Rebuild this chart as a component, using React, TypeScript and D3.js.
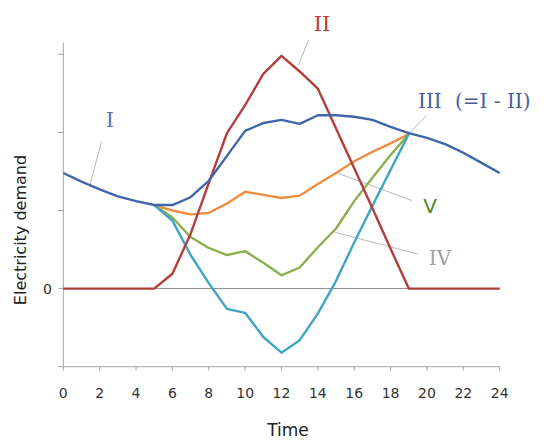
import * as d3 from 'd3';

// ── Data ──────────────────────────────────────────────────────────────────────
const HOURS = d3.range(0, 25);
const SERIES_I = [
  1.48, 1.37, 1.27, 1.18, 1.12, 1.07, 1.07, 1.17, 1.38, 1.70, 2.02, 2.12, 2.16,
  2.11, 2.22, 2.22, 2.20, 2.16, 2.07, 1.99, 1.93, 1.85, 1.74, 1.61, 1.48,
];
const SERIES_II = [
  0, 0, 0, 0, 0, 0, 0.19, 0.70, 1.35, 1.99, 2.35, 2.75, 2.98,
  2.78, 2.56, 2.05, 1.54, 1.03, 0.51, 0, 0, 0, 0, 0, 0,
];
// III, IV and V only exist from hour 5 to hour 19
const SUB_HOURS = d3.range(5, 20);
const SERIES_III = [1.07, 0.87, 0.43, 0.07, -0.26, -0.31, -0.62, -0.82, -0.66, -0.32, 0.10, 0.59, 1.06, 1.52, 1.98];
const SERIES_IV = [1.07, 0.91, 0.66, 0.52, 0.43, 0.48, 0.33, 0.17, 0.27, 0.53, 0.77, 1.12, 1.42, 1.71, 1.98];
const SERIES_V = [1.07, 1.00, 0.95, 0.97, 1.09, 1.24, 1.20, 1.16, 1.19, 1.34, 1.48, 1.63, 1.75, 1.86, 1.98];

const X_TICKS = d3.range(0, 25, 2);
const Y_TICKS = [-1, 0, 1, 2, 3];

// ── Layout ────────────────────────────────────────────────────────────────────
const W = 544;
const H = 441;
const X0 = 63.3;
const X1 = 499.7;
const Y_BOTTOM = 366.7;
const Y_TOP = 42.6;

// ── Colors ────────────────────────────────────────────────────────────────────
const BLUE = '#4066aa';
const RED = '#b33f3d';
const TEAL = '#3ea6c2';
const OLIVE = '#8daf4e';
const ORANGE = '#ee8f40';
const AXIS = '#a6a6a6';
const LEADER = '#b8b8b8';

const SANS = '"DejaVu Sans", Verdana, sans-serif';
const SERIF = '"DejaVu Serif", serif';

export default function App() {
  const x = d3.scaleLinear().domain([0, 24]).range([X0, X1]);
  const y = d3.scaleLinear().domain([-1, 3.15]).range([Y_BOTTOM, Y_TOP]);

  const line = d3
    .line<[number, number]>()
    .x(d => x(d[0]))
    .y(d => y(d[1]));

  const full = (vals: number[]) => line(HOURS.map((h, i) => [h, vals[i]]))!;
  const sub = (vals: number[]) => line(SUB_HOURS.map((h, i) => [h, vals[i]]))!;

  // leader lines: [fromHour, fromValue, toHour, toValue]
  const leaders: [number, number, number, number][] = [
    [2.1, 1.88, 1.47, 1.33],
    [13.48, 3.18, 12.93, 2.86],
    [19.98, 2.22, 19.0, 1.98],
    [19.16, 1.13, 14.95, 1.49],
    [19.53, 0.44, 14.95, 0.72],
  ];

  return (
    <svg
      width={W}
      height={H}
      viewBox={`0 0 ${W} ${H}`}
      style={{ position: 'absolute', left: 0, top: 0, background: '#fff' }}
    >
      {/* axes */}
      <line x1={X0} x2={X0} y1={Y_TOP} y2={Y_BOTTOM} stroke={AXIS} strokeWidth={1} />
      <line x1={X0} x2={X1} y1={Y_BOTTOM} y2={Y_BOTTOM} stroke={AXIS} strokeWidth={1} />
      {Y_TICKS.map(v => (
        <line key={v} x1={X0 - 5} x2={X0} y1={y(v)} y2={y(v)} stroke={AXIS} strokeWidth={1} />
      ))}
      {X_TICKS.map(h => (
        <g key={h}>
          <line x1={x(h)} x2={x(h)} y1={Y_BOTTOM} y2={Y_BOTTOM + 4} stroke={AXIS} strokeWidth={1} />
          <text
            x={x(h)} y={Y_BOTTOM + 31}
            textAnchor="middle" fontSize={14} fill="#333" fontFamily={SANS}
          >
            {h}
          </text>
        </g>
      ))}

      {/* zero line */}
      <line x1={X0} x2={X1} y1={y(0)} y2={y(0)} stroke="#8c8c8c" strokeWidth={1} />
      <text x={52} y={y(0) + 5} textAnchor="end" fontSize={14} fill="#333" fontFamily={SANS}>
        0
      </text>

      {/* axis titles */}
      <text x={288} y={436} textAnchor="middle" fontSize={17} fill="#222" fontFamily={SANS}>
        Time
      </text>
      <text
        transform={`translate(26, 230) rotate(-90)`}
        textAnchor="middle" fontSize={16} fill="#222" fontFamily={SANS}
      >
        Electricity demand
      </text>

      {/* leader lines */}
      {leaders.map((l, i) => (
        <line
          key={i}
          x1={x(l[0])} y1={y(l[1])} x2={x(l[2])} y2={y(l[3])}
          stroke={LEADER} strokeWidth={1}
        />
      ))}

      {/* series */}
      <g fill="none" strokeWidth={2.4} strokeLinejoin="round">
        <path d={sub(SERIES_V)} stroke={ORANGE} />
        <path d={sub(SERIES_IV)} stroke={OLIVE} />
        <path d={sub(SERIES_III)} stroke={TEAL} />
        <path d={full(SERIES_II)} stroke={RED} />
        <path d={full(SERIES_I)} stroke={BLUE} />
      </g>

      {/* series labels */}
      <text x={110} y={127} textAnchor="middle" fontSize={21} fill="#4a78b8" fontFamily={SERIF}>
        I
      </text>
      <text x={322} y={31} textAnchor="middle" fontSize={21} fill="#c03a3c" fontFamily={SERIF}>
        II
      </text>
      <text x={418} y={108} fontSize={20} fill="#4a5b9c" fontFamily={SERIF}>
        III
      </text>
      <text x={455} y={108} fontSize={20} fill="#4a5b9c" fontFamily={SERIF}>
        (=I - II)
      </text>
      <text x={430} y={213} textAnchor="middle" fontSize={20} fill="#4e8a2c" fontFamily={SANS}>
        V
      </text>
      <text x={440} y={265} textAnchor="middle" fontSize={20} fill="#a0a0a0" fontFamily={SERIF}>
        IV
      </text>
    </svg>
  );
}
